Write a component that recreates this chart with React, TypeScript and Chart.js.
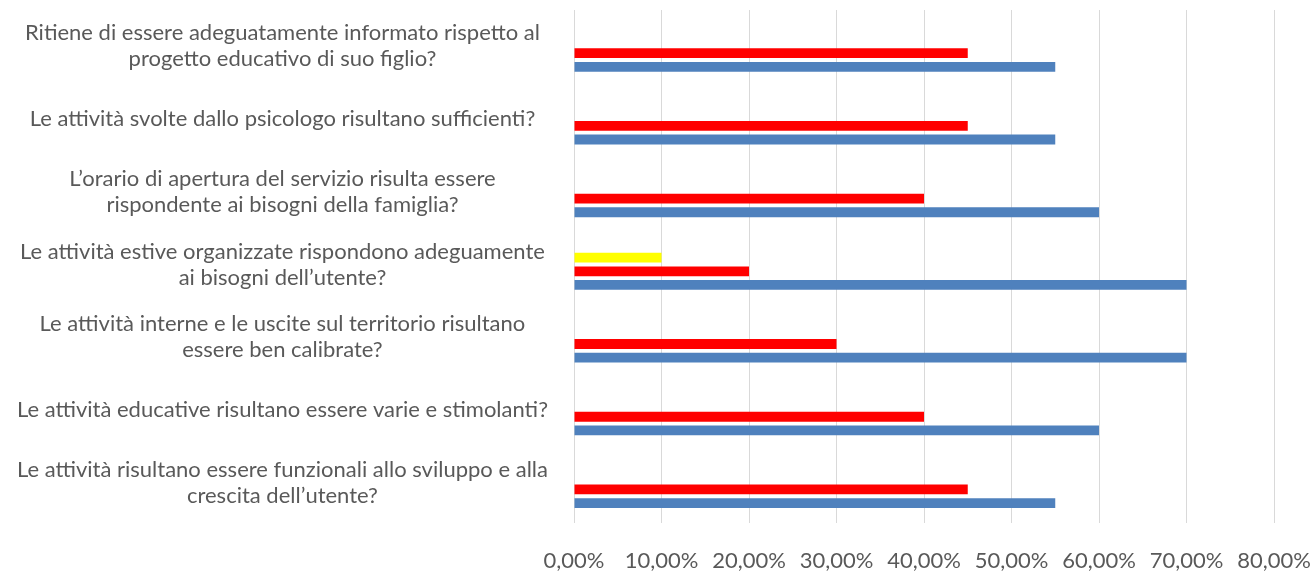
import React, { useEffect, useRef } from "react";
import { Chart, registerables } from "chart.js";

Chart.register(...registerables);

const categories: (string | string[])[] = [
  ["Ritiene di essere adeguatamente informato rispetto al", "progetto educativo di suo figlio?"],
  "Le attività svolte dallo psicologo risultano sufficienti?",
  ["L’orario di apertura del servizio risulta essere", "rispondente ai bisogni della famiglia?"],
  ["Le attività estive organizzate rispondono adeguamente", "ai bisogni dell’utente?"],
  ["Le attività interne e le uscite sul territorio risultano", "essere ben calibrate?"],
  "Le attività educative risultano essere varie e stimolanti?",
  ["Le attività risultano essere funzionali allo sviluppo e alla", "crescita dell’utente?"],
];

// values in percent, one per category (top to bottom)
const seriesSi = [55, 55, 60, 70, 70, 60, 55];
const seriesInParte = [45, 45, 40, 20, 30, 40, 45];
const seriesNo = [0, 0, 0, 10, 0, 0, 0];
const seriesNonRisponde = [0, 0, 0, 0, 0, 0, 0];

const xTicks = [0, 10, 20, 30, 40, 50, 60, 70, 80];

const FONT = "Lato";
const TEXT = "#595959";

export default function App() {
  const ref = useRef<HTMLCanvasElement | null>(null);

  useEffect(() => {
    if (!ref.current) return;
    const chart = new Chart(ref.current, {
      type: "bar",
      data: {
        labels: categories,
        datasets: [
          { label: "Non risponde", data: seriesNonRisponde, backgroundColor: "#A5A5A5" },
          { label: "No", data: seriesNo, backgroundColor: "#FFFF00" },
          { label: "In parte", data: seriesInParte, backgroundColor: "#FF0000" },
          { label: "Sì", data: seriesSi, backgroundColor: "#4F81BD" },
        ],
      },
      options: {
        indexAxis: "y",
        animation: false,
        responsive: false,
        layout: { padding: { top: 10, right: 41, bottom: 0, left: 0 } },
        datasets: {
          bar: { categoryPercentage: 0.75, barPercentage: 0.72, borderWidth: 0 },
        },
        plugins: { legend: { display: false }, tooltip: { enabled: false } },
        scales: {
          x: {
            min: 0,
            max: 80,
            afterBuildTicks: (scale: any) => {
              scale.ticks = xTicks.map((v) => ({ value: v }));
            },
            afterFit: (scale: any) => {
              scale.paddingLeft = 0;
              scale.paddingRight = 0;
              scale.height = 53;
            },
            ticks: {
              color: TEXT,
              font: { family: FONT, size: 22, lineHeight: 1 },
              padding: 27,
              maxRotation: 0,
              callback: (v: any) => Number(v).toFixed(2).replace(".", ",") + "%",
            },
            grid: { color: "#D9D9D9", lineWidth: 1, tickLength: 4 },
            border: { display: false },
          },
          y: {
            afterFit: (scale: any) => {
              scale.width = 574;
              scale.paddingTop = 0;
              scale.paddingBottom = 0;
            },
            ticks: {
              color: TEXT,
              font: { family: FONT, size: 22, lineHeight: 1.18 },
              crossAlign: "center",
              padding: 26,
              autoSkip: false,
            },
            grid: { display: false, drawTicks: false },
            border: { display: false },
          },
        },
      },
    });
    return () => chart.destroy();
  }, []);

  return (
    <div style={{ position: "absolute", left: 0, top: 0, width: 1315, height: 572, background: "#fff" }}>
      <canvas ref={ref} width={1315} height={572} style={{ display: "block" }} />
    </div>
  );
}
